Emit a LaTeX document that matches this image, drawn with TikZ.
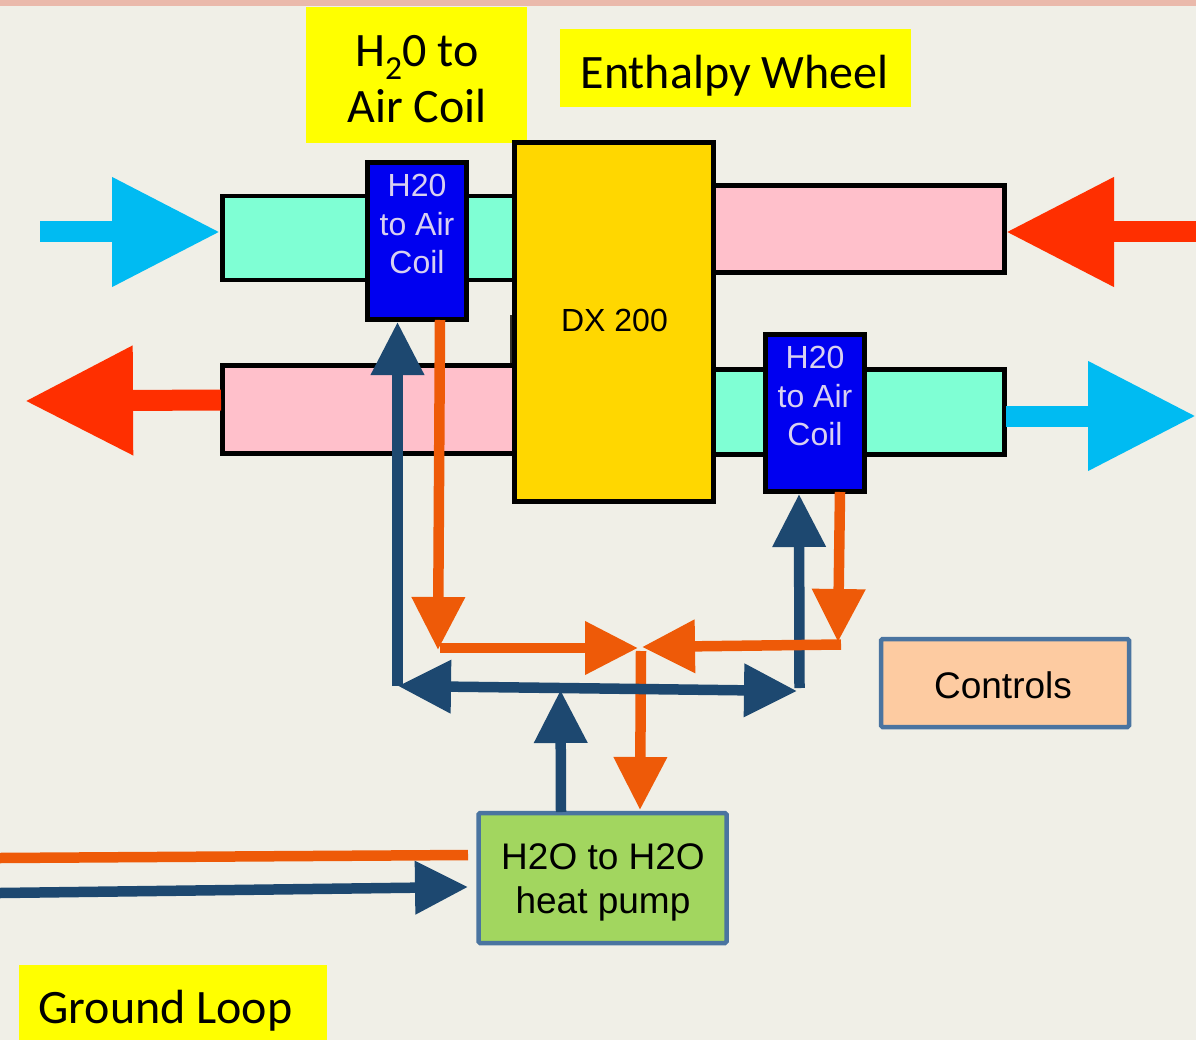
\documentclass[tikz,border=0pt]{standalone}
\usepackage{fontspec}
\setmainfont{Carlito}
\setsansfont{Liberation Sans}
\usetikzlibrary{arrows.meta}
\definecolor{bg}{HTML}{F0EFE7}
\definecolor{topbar}{HTML}{EAB9AB}
\definecolor{ylab}{HTML}{FFFF00}
\definecolor{aqua}{HTML}{7FFFD4}
\definecolor{pinkd}{HTML}{FFC0CB}
\definecolor{gold}{HTML}{FFD700}
\definecolor{coil}{HTML}{0000F0}
\definecolor{coiltxt}{HTML}{D8D0F0}
\definecolor{skyb}{HTML}{00BBF2}
\definecolor{redd}{HTML}{FF2F00}
\definecolor{orng}{HTML}{EE5A08}
\definecolor{navy}{HTML}{1D4870}
\definecolor{peach}{HTML}{FDCBA1}
\definecolor{grn}{HTML}{A2D65F}
\definecolor{bord}{HTML}{4A74A0}
\tikzset{
 x=1pt,y=-1pt,
 ytext/.style={inner sep=0,font=\fontsize{48}{56}\selectfont,align=center},
 duct/.style={draw=black,line width=4.5,inner sep=0},
 coilbox/.style={draw=black,fill=coil,line width=5.5,inner sep=0,minimum width=99,minimum height=157},
 coiltext/.style={inner sep=0,text=coiltxt,font=\sffamily\fontsize{32}{38.7}\selectfont,align=center},
 ctl/.style={draw=bord,line width=4.5,inner sep=0,rounded corners=1.5},
 ctltext/.style={inner sep=0,text=black,font=\sffamily\fontsize{37}{44}\selectfont,align=center},
 pipeO/.style={draw=orng,line width=10.5},
 pipeN/.style={draw=navy,line width=10.5},
 smalltip/.style={-{Triangle[length=53pt,width=51pt]}},
 bigtip/.style={-{Triangle[length=108pt,width=104pt]},line width=21},
}
\begin{document}
\begin{tikzpicture}
\useasboundingbox (0,0) rectangle (1196,1040);
\fill[bg] (0,0) rectangle (1196,1040);
\fill[topbar] (0,0) rectangle (1196,6);
% labels
\node[fill=ylab,inner sep=0,minimum width=221,minimum height=136] (lab1) at (416,75) {};
\node[ytext] (lab1t) at (417,79) {H\textsubscript{2}0 to\\Air Coil};
\node[fill=ylab,inner sep=0,minimum width=351,minimum height=78] (lab2) at (735,68) {};
\node[ytext] (lab2t) at (734.5,76) {Enthalpy Wheel};
\node[fill=ylab,inner sep=0,minimum width=308,minimum height=75,anchor=north west] (lab3) at (19,965) {};
\node[ytext] (lab3t) at (165.5,1011) {Ground Loop};
% small dark stubs beside the wheel
\draw[black!80!olive,line width=3] (511.5,315) -- (511.5,365);
% ducts and wheel
\node[duct,fill=aqua,minimum width=293,minimum height=84] (d1) at (369,238) {};
\node[duct,fill=pinkd,minimum width=293,minimum height=88] (d2) at (369,409.5) {};
\node[draw=black,fill=gold,line width=5,minimum width=199,minimum height=358,inner sep=0] (dx) at (614,322) {};
\node[inner sep=0,font=\sffamily\fontsize{32}{38}\selectfont] (dxt) at (614.5,320) {DX 200};
\node[duct,fill=pinkd,minimum width=291,minimum height=87] (d3) at (859,229) {};
\node[duct,fill=aqua,minimum width=291,minimum height=85] (d4) at (859,412) {};
% coils
\node[coilbox] (c1) at (417,241) {};
\node[coiltext] (c1t) at (417,224) {H20\\to Air\\Coil};
\node[coilbox] (c2) at (815,413) {};
\node[coiltext] (c2t) at (815,396) {H20\\to Air\\Coil};
% controls and pump
\node[ctl,fill=peach,minimum width=248,minimum height=88] (ctrl) at (1005,683) {};
\node[ctltext] (ctrlt) at (1003,685) {Controls};
\node[ctl,fill=grn,minimum width=248,minimum height=130] (hp) at (602.5,878) {};
\node[ctltext] (hpt) at (603,882) {H2O to H2O\\heat pump};
% free ends of the connectors
\coordinate (skyA) at (40,232); \coordinate (skyAt) at (220,232);
\coordinate (redA) at (1196,232); \coordinate (redAt) at (1006,232);
\coordinate (redB) at (221,400); \coordinate (redBt) at (25,401);
\coordinate (skyB) at (1006,416); \coordinate (skyBt) at (1196,416);
\coordinate (o1s) at (440,320); \coordinate (o1t) at (438,650);
\coordinate (o2s) at (440,648); \coordinate (o2t) at (638,648);
\coordinate (o3s) at (840,492); \coordinate (o3t) at (838,642);
\coordinate (o4s) at (841,644.5); \coordinate (o4t) at (642,647);
\coordinate (o5s) at (641,651); \coordinate (o5t) at (640,810);
\coordinate (n1s) at (397.5,686); \coordinate (n1t) at (397.5,322);
\coordinate (n2s) at (799.5,688); \coordinate (n2t) at (799,494);
\coordinate (nm) at (600,688.5);
\coordinate (n3t) at (398,686); \coordinate (n4t) at (797,691);
\coordinate (n5s) at (561,812); \coordinate (n5t) at (560.5,690);
\coordinate (g1s) at (0,858); \coordinate (g1t) at (468,855);
\coordinate (g2s) at (0,893); \coordinate (g2t) at (468,887);
% outer arrows
\draw[skyb,bigtip] (skyA) -- (skyAt);
\draw[redd,bigtip] (redA) -- (redAt);
\draw[redd,bigtip] (redB) -- (redBt);
\draw[skyb,bigtip] (skyB) -- (skyBt);
% pipes
\draw[pipeN,smalltip] (n1s) -- (n1t);
\draw[pipeN,smalltip] (n2s) -- (n2t);
\draw[pipeO,smalltip] (o1s) -- (o1t);
\draw[pipeO,smalltip] (o3s) -- (o3t);
\draw[pipeO,smalltip] (o2s) -- (o2t);
\draw[pipeO,smalltip] (o4s) -- (o4t);
\draw[pipeO,smalltip] (o5s) -- (o5t);
\draw[pipeN,smalltip] (nm) -- (n3t);
\draw[pipeN,smalltip] (nm) -- (n4t);
\draw[pipeN,smalltip] (n5s) -- (n5t);
% ground loop
\draw[pipeO] (g1s) -- (g1t);
\draw[pipeN,smalltip] (g2s) -- (g2t);
\end{tikzpicture}
\end{document}
